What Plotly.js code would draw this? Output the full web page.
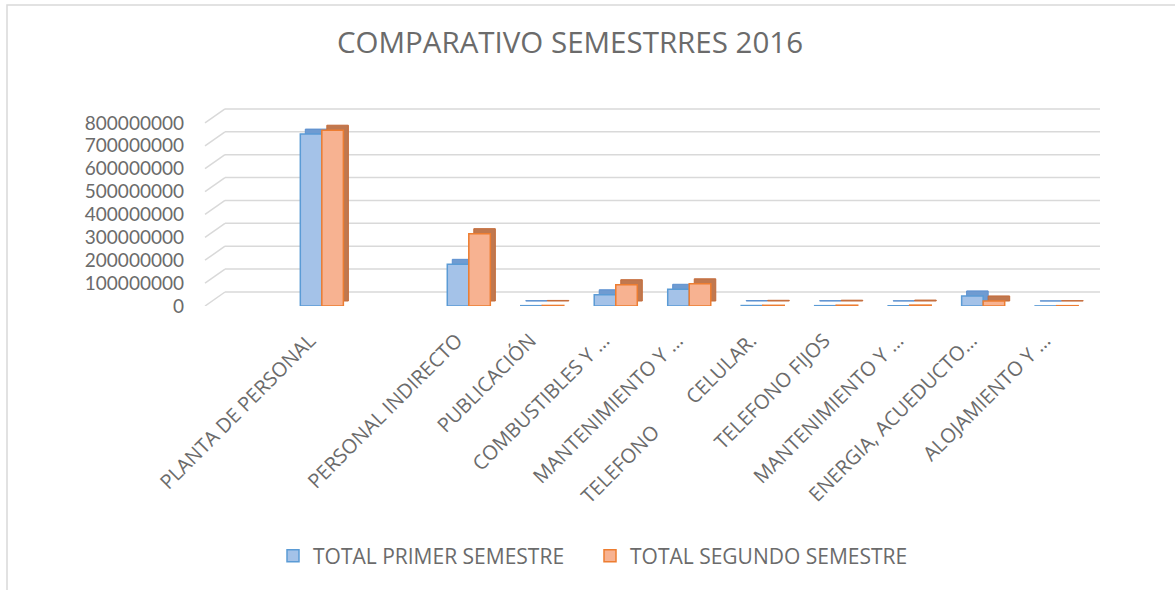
<!DOCTYPE html>
<html><head><meta charset="utf-8">
<script src="https://cdn.plot.ly/plotly-3.0.1.min.js"></script>
<style>html,body{margin:0;padding:0;background:#fff}</style>
</head><body><div id="chart" style="width:1175px;height:590px"></div>
<script>
// ---- data ----
const categories = ["PLANTA DE PERSONAL", "", "PERSONAL INDIRECTO", "PUBLICACIÓN", "COMBUSTIBLES Y …", "MANTENIMIENTO Y …", "CELULAR.", "TELEFONO FIJOS", "MANTENIMIENTO Y …", "ENERGIA, ACUEDUCTO…", "ALOJAMIENTO Y …"];
const primerSemestre  = [751000000, null, 182000000, 1500000, 49000000, 73000000, 2000000, 1500000, 1000000, 44000000, 500000];
const segundoSemestre = [768000000, null, 316000000, 2500000, 93000000, 97000000, 3000000, 3500000, 4000000, 22000000, 1500000];
const seriesNames = ["TOTAL PRIMER SEMESTRE", "TOTAL SEGUNDO SEMESTRE"];
const tickValues = [0, 100000000, 200000000, 300000000, 400000000, 500000000, 600000000, 700000000, 800000000];
const tickLabels = ["0", "100000000", "200000000", "300000000", "400000000", "500000000", "600000000", "700000000", "800000000"];
const wrappedLabelPart = "TELEFONO";
const chartTitle = "COMPARATIVO SEMESTRRES 2016";

// ---- geometry / style ----
const W = 1175, H = 590;
const L = 205, R = 1100, T = 100, B = 306;
const Y_MAX = 900000000;
const X_RANGE = [-1.59, 10.59];
const slotPx = (R - L) / (X_RANGE[1] - X_RANGE[0]);
const unitsPerPx = Y_MAX / (B - T);
const DEPTH_PX = 5;
const depthX = DEPTH_PX / slotPx;
const depthY = DEPTH_PX * unitsPerPx;
const BAR_W = 0.293;
const GRID_SHIFT = 14 * unitsPerPx;
const gridDiagEnd = 20 / (R - L);
const xp = px => (px - L) / (R - L);
const yp = py => (B - py) / (B - T);
const TEXT = "#6b6b6b";
const FONT = "Open Sans, Noto Sans, sans-serif";
const FONT_Y = "Lato, Open Sans, sans-serif";

const idx = categories.map((c, i) => i);

const traces = [
  {type: "bar", x: idx, y: primerSemestre, base: depthY, offset: -BAR_W + depthX, width: BAR_W,
   marker: {color: "#6f9bd1", line: {color: "#5b8fcf", width: 1}}, showlegend: false, hoverinfo: "skip"},
  {type: "bar", x: idx, y: primerSemestre, name: seriesNames[0], offset: -BAR_W, width: BAR_W,
   marker: {color: "#a4c2e8", line: {color: "#5b9bd5", width: 1.5}}},
  {type: "bar", x: idx, y: segundoSemestre, base: depthY, offset: depthX, width: BAR_W,
   marker: {color: "#c0784f", line: {color: "#c46a38", width: 1}}, showlegend: false, hoverinfo: "skip"},
  {type: "bar", x: idx, y: segundoSemestre, name: seriesNames[1], offset: 0, width: BAR_W,
   marker: {color: "#f7b291", line: {color: "#ed7d31", width: 1.5}}}
];

const shapes = [];
tickValues.forEach(v => {
  shapes.push({type: "line", layer: "below", xref: "paper", yref: "y", x0: 0, x1: gridDiagEnd, y0: v, y1: v + GRID_SHIFT,
               line: {color: "#d9d9d9", width: 1.5}});
  shapes.push({type: "line", layer: "below", xref: "paper", yref: "y", x0: gridDiagEnd, x1: 1, y0: v + GRID_SHIFT, y1: v + GRID_SHIFT,
               line: {color: "#d9d9d9", width: 1.5}});
});
// chart area border (top and left edges visible)
shapes.push({type: "rect", layer: "below", xref: "paper", yref: "paper",
             x0: xp(7), x1: xp(1190), y0: yp(605), y1: yp(5), line: {color: "#d9d9d9", width: 1.5}});

const layout = {
  width: W, height: H,
  margin: {l: L, r: W - R, t: T, b: H - B, pad: 0},
  paper_bgcolor: "#ffffff", plot_bgcolor: "rgba(0,0,0,0)",
  barmode: "overlay",
  title: {text: chartTitle, font: {family: FONT, size: 29.5, color: TEXT},
          x: 570 / W, xanchor: "center", y: 1 - 43 / H, yanchor: "middle", xref: "container", yref: "container"},
  xaxis: {range: X_RANGE, tickvals: idx, ticktext: categories, tickangle: -45,
          showgrid: false, zeroline: false, showline: false, ticks: "",
          ticklabelstandoff: 18, ticklabelshift: -12,
          tickfont: {family: FONT, size: 20, color: TEXT}, fixedrange: true},
  yaxis: {range: [0, Y_MAX], tickvals: tickValues, ticktext: tickLabels,
          showgrid: false, zeroline: false, showline: false, ticks: "", ticklabelstandoff: 20,
          tickfont: {family: FONT_Y, size: 19, color: TEXT}, fixedrange: true},
  legend: {orientation: "h", x: xp(590), xanchor: "center", y: yp(556), yanchor: "middle",
           entrywidth: 272, entrywidthmode: "pixels",
           font: {family: FONT, size: 21, color: TEXT}, traceorder: "normal"},
  shapes: shapes,
  annotations: [{text: wrappedLabelPart, xref: "paper", yref: "paper", x: xp(668), y: yp(416),
                 xanchor: "right", yanchor: "top", textangle: -45, showarrow: false,
                 font: {family: FONT, size: 20, color: TEXT}}]
};

Plotly.newPlot("chart", traces, layout, {displayModeBar: false, staticPlot: true});
</script>
</body></html>
